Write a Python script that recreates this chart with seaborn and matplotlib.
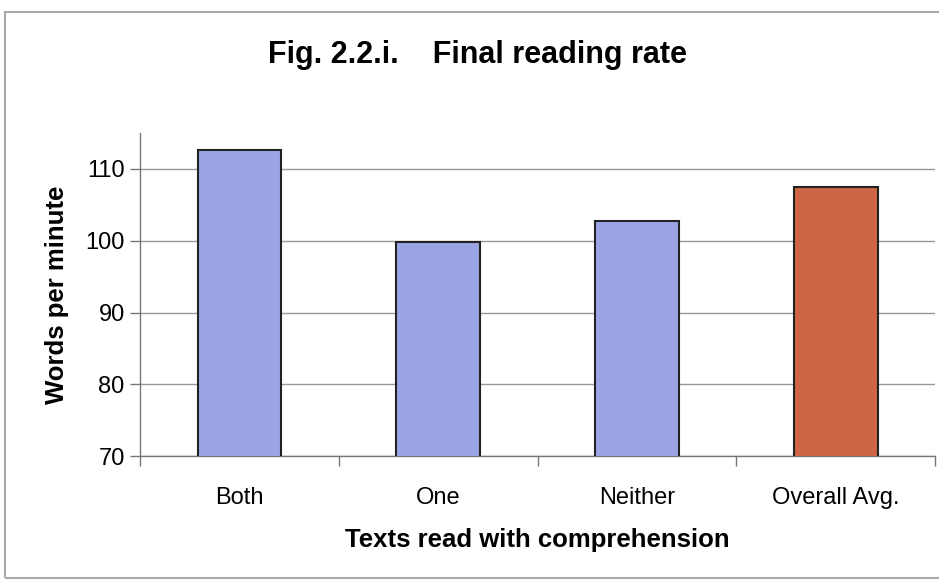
import matplotlib
matplotlib.use("Agg")
import matplotlib.pyplot as plt
import seaborn as sns
import pandas as pd
from matplotlib.patches import Rectangle

categories = ["Both", "One", "Neither", "Overall Avg."]
words_per_minute = [112.6, 99.8, 102.7, 107.5]
bar_colors = ["#9ba5e6", "#9ba5e6", "#9ba5e6", "#cc6646"]
y_ticks = [70, 80, 90, 100, 110]

sns.set_theme(style="white")
plt.rcParams["font.family"] = ["Liberation Sans", "DejaVu Sans"]
plt.rcParams["text.color"] = "black"
plt.rcParams["axes.labelcolor"] = "black"

df = pd.DataFrame({"category": categories, "wpm": words_per_minute})

fig = plt.figure(figsize=(9.39, 5.81), dpi=100)
ax = fig.add_axes([0.149, 0.215, 0.847, 0.556])

sns.barplot(data=df, x="category", y="wpm", hue="category",
            palette=bar_colors, saturation=1, legend=False, width=0.42,
            edgecolor="#222222", linewidth=1.5, ax=ax, zorder=3)

ax.set_ylim(70, 115)
ax.set_xlim(-0.5, 3.5)
ax.set_yticks(y_ticks)
ax.set_yticklabels([str(t) for t in y_ticks], fontsize=17)
ax.yaxis.grid(True, color="#999999", linewidth=1)
ax.set_axisbelow(True)

# category boundaries carry the x tick marks
ax.set_xticks([-0.5, 0.5, 1.5, 2.5, 3.5], minor=True)
ax.tick_params(axis="x", which="major", length=0, pad=22, labelsize=17,
               labelcolor="black")
ax.tick_params(axis="x", which="minor", length=7, width=1, color="#777777",
               direction="out", bottom=True)
ax.tick_params(axis="y", length=7, width=1, color="#777777",
               direction="out", left=True, pad=4, labelcolor="black")

for side in ["top", "right"]:
    ax.spines[side].set_visible(False)
for side in ["left", "bottom"]:
    ax.spines[side].set_color("#777777")
    ax.spines[side].set_linewidth(1)

ax.set_xlabel("Texts read with comprehension", fontsize=18.5,
              fontweight="bold", labelpad=14)
ax.set_ylabel("Words per minute", fontsize=18.5, fontweight="bold",
              labelpad=12)

fig.text(0.508, 0.905, "Fig. 2.2.i.    Final reading rate", ha="center",
         va="center", fontsize=22, fontweight="bold")

fig.patches.append(Rectangle((0.005, 0.005), 1.2, 0.975,
                             transform=fig.transFigure, fill=False,
                             edgecolor="#aaaaaa", linewidth=1.5))

fig.savefig("out.png", dpi=100)
